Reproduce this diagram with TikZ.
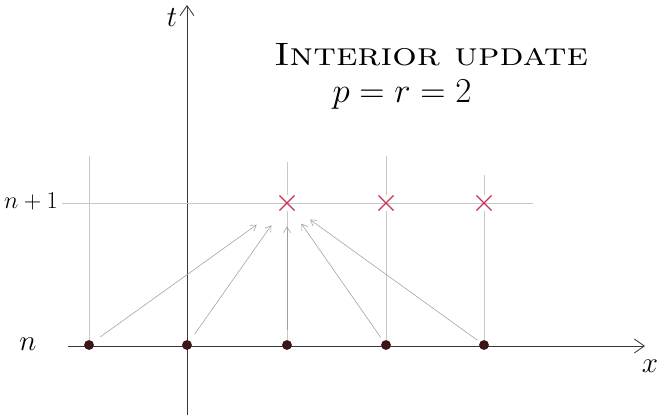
\documentclass[tikz,border=0pt]{standalone}
\usepackage{amsmath,amssymb}
\usepackage{graphicx}
\usepackage{tikz}
\usetikzlibrary{arrows.meta,positioning,shapes.misc}

\definecolor{inkred}{RGB}{200,50,85}
\definecolor{inkdot}{RGB}{60,22,22}
\definecolor{pencil}{RGB}{200,200,200}
\definecolor{axisgray}{RGB}{60,55,55}
\definecolor{arrowgray}{RGB}{160,160,160}

\begin{document}
\begin{tikzpicture}[
    x=0.025cm, y=-0.025cm,
    dot/.style={circle, fill=inkdot, inner sep=0pt, minimum size=7pt},
    cross/.style={cross out, draw=inkred, thick, inner sep=0pt, minimum size=0.35cm},
    axis/.style={-{Straight Barb[length=2.5mm, width=3.5mm]}, draw=axisgray, semithick},
    gridline/.style={draw=pencil, thin},
    arrow/.style={-{Straight Barb[length=1.4mm, width=1.8mm]}, draw=arrowgray, thin},
    lbl/.style={font=\huge}
]
\useasboundingbox (0,0) rectangle (657,418);

% axes
\coordinate (xl) at (68,346);
\coordinate (xr) at (645,346);
\coordinate (tb) at (187,415);
\coordinate (tt) at (187,5);
\draw[axis] (xl) -- (xr);
\draw[axis] (tb) -- (tt);
\node[lbl] (xlab) at (650,366) {$x$};
\node[lbl] (tlab) at (172,18) {$t$};

% time levels
\coordinate (hl) at (62,203);
\coordinate (hr) at (533,203);
\draw[gridline] (hl) -- (hr);
\node[lbl] (n) at (28,344) {$n$};
\node[font=\LARGE] (n1) at (31,201) {$n+1$};

% title
\node[font=\fontsize{23}{27}\selectfont] (title) at (431,55) {\scalebox{1.19}[1]{\textsc{Interior update}}};
\node[font=\fontsize{25}{30}\selectfont] (param) at (402,95) {$p=r=2$};

% points at level n
\node[dot] (d0) at (89,345) {};
\node[dot] (d1) at (187,345) {};
\node[dot] (d2) at (287,345) {};
\node[dot] (d3) at (386,345) {};
\node[dot] (d4) at (484,345) {};

% points at level n+1
\node[cross] (c2) at (287,203) {};
\node[cross] (c3) at (386,203) {};
\node[cross] (c4) at (484,203) {};

% vertical lines
\coordinate (g0) at (89,156);
\coordinate (g2) at (287,162);
\coordinate (g3) at (386,156);
\coordinate (g4) at (484,175);
\draw[gridline] (g0) -- (d0);
\draw[gridline] (g2) -- (c2);
\draw[gridline] (c2) -- (d2);
\draw[gridline] (g3) -- (c3);
\draw[gridline] (c3) -- (d3);
\draw[gridline] (g4) -- (c4);
\draw[gridline] (c4) -- (d4);

% stencil
\draw[arrow, shorten <=0.22cm, shorten >=0.7cm] (d0) -- (c2);
\draw[arrow, shorten <=0.2cm, shorten >=0.45cm] (d1) -- (c2);
\draw[arrow, shorten <=0.25cm, shorten >=0.4cm] (d2) -- (c2);
\draw[arrow, shorten <=0.1cm, shorten >=0.4cm] (d3) -- (c2);
\draw[arrow, shorten <=0.08cm, shorten >=0.48cm] (d4) -- (c2);
\end{tikzpicture}
\end{document}
